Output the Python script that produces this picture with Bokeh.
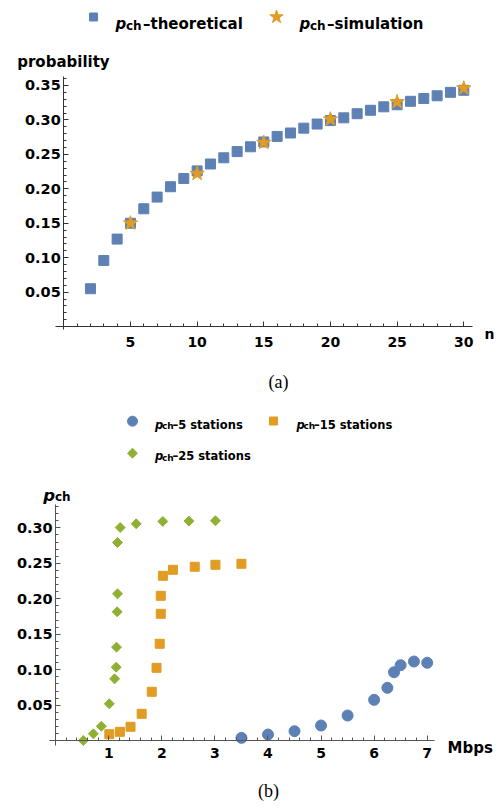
from bokeh.plotting import figure
from bokeh.layouts import column
from bokeh.models import Label, FixedTicker, Range1d, PrintfTickFormatter
from bokeh.embed import file_html
from bokeh.resources import INLINE
import math

# ---------------- data: chart (a) ----------------
n_theory = list(range(2, 31))
p_theory = [0.055, 0.096, 0.127, 0.150, 0.171, 0.188, 0.203, 0.215, 0.226, 0.236,
            0.245, 0.254, 0.261, 0.268, 0.276, 0.281, 0.288, 0.294, 0.299, 0.303,
            0.309, 0.314, 0.319, 0.322, 0.327, 0.331, 0.335, 0.340, 0.343]
n_sim = [5, 10, 15, 20, 25, 30]
p_sim = [0.150, 0.222, 0.267, 0.301, 0.326, 0.346]
xticks_a = [5, 10, 15, 20, 25, 30]
yticks_a = [0.05, 0.10, 0.15, 0.20, 0.25, 0.30, 0.35]

# ---------------- data: chart (b) ----------------
rate_5 = [3.5, 4.0, 4.5, 5.0, 5.5, 6.0, 6.25, 6.375, 6.5, 6.75, 7.0]
p_5 = [0.004, 0.0087, 0.0134, 0.0214, 0.0355, 0.0576, 0.0745, 0.0965, 0.1064, 0.1116, 0.1098]
rate_15 = [1.01, 1.21, 1.41, 1.62, 1.81, 1.9, 1.96, 1.98, 1.98, 2.02, 2.21, 2.62, 3.01, 3.5]
p_15 = [0.0092, 0.0125, 0.0196, 0.0379, 0.0689, 0.1027, 0.1366, 0.1788, 0.2042, 0.2324,
        0.2408, 0.2451, 0.2479, 0.2493]
rate_25 = [0.52, 0.71, 0.86, 1.01, 1.11, 1.14, 1.146, 1.158, 1.165, 1.165, 1.215, 1.517,
           2.018, 2.51, 3.01]
p_25 = [0.0003, 0.0097, 0.0204, 0.052, 0.0872, 0.1036, 0.1318, 0.1817, 0.207, 0.2793,
        0.3004, 0.3057, 0.309, 0.3095, 0.310]
xticks_b = [1, 2, 3, 4, 5, 6, 7]
yticks_b = [0.05, 0.10, 0.15, 0.20, 0.25, 0.30]

BLUE = "#5E81B5"
ORANGE = "#E19C24"
GREEN = "#8FB032"
FONT = "DejaVu Sans"

W = 500
H1, H2 = 400, 406
OFF = 0  # bokeh's page template has no body margin


# page-pixel -> data mappings (layout helpers)
def X1(px):
    return (px - 63.3) / 13.333


def Y1(py):
    return (326.1 - py) / 689.0


def X2(px):
    return (px - 55.2) / 53.07


def Y2(py):
    return (740.2 - py) / 709.6


def lab(p, X, Y, px, py, text, size, style="bold", font=FONT, align="left",
        baseline="alphabetic"):
    p.add_layout(Label(x=X(px), y=Y(py), text=text, text_font=font,
                       text_font_size=f"{size}px", text_font_style=style,
                       text_align=align, text_baseline=baseline, text_color="black"))


def style_axes(p, xb, yb, xt, xminor, yt, yminor, col):
    xa = p.xaxis[0]
    ya = p.yaxis[0]
    xa.fixed_location = 0
    ya.fixed_location = 0
    xa.bounds = xb
    ya.bounds = yb
    xa.ticker = FixedTicker(ticks=xt, minor_ticks=xminor)
    ya.ticker = FixedTicker(ticks=yt, minor_ticks=yminor)
    ya.formatter = PrintfTickFormatter(format="%.2f")
    for a in (xa, ya):
        a.axis_line_color = col
        a.major_tick_line_color = col
        a.minor_tick_line_color = col
        a.major_tick_in = 5
        a.major_tick_out = 0
        a.minor_tick_in = 3
        a.minor_tick_out = 0
        a.major_label_text_font = FONT
        a.major_label_text_font_style = "bold"
        a.major_label_text_color = "black"
    xa.major_label_text_font_size = "14px"
    ya.major_label_text_font_size = "14.5px"
    ya.major_label_standoff = 3


# ---------------- figure (a) ----------------
p1 = figure(width=W, height=H1, output_backend="svg", toolbar_location=None,
            x_range=Range1d(X1(OFF), X1(OFF + W)), y_range=Range1d(Y1(OFF + H1), Y1(OFF)),
            min_border=0, outline_line_color=None)
p1.xgrid.visible = False
p1.ygrid.visible = False
style_axes(p1, (-0.62, 30.63), (-0.004, 0.363), xticks_a, list(range(1, 31)),
           yticks_a, [i / 100 for i in range(1, 37)], "#333333")
p1.xaxis[0].major_label_standoff = 10

p1.scatter(n_theory, p_theory, marker="square", size=10, color=BLUE)
p1.scatter(n_sim, p_sim, marker="star", size=15, color=ORANGE)

# legend (a)
p1.scatter([X1(93)], [Y1(16.5)], marker="square", size=8, color=BLUE)
p1.scatter([X1(276)], [Y1(16.5)], marker="star", size=14, color=ORANGE)
lab(p1, X1, Y1, 115, 23.3, "p", 15, "bold italic")
lab(p1, X1, Y1, 125.5, 25, "ch", 12)
lab(p1, X1, Y1, 142.5, 23.3, "–theoretical", 15)
lab(p1, X1, Y1, 299, 23.3, "p", 15, "bold italic")
lab(p1, X1, Y1, 309.5, 25, "ch", 12)
lab(p1, X1, Y1, 326.5, 23.3, "–simulation", 15)

lab(p1, X1, Y1, 16.7, 61.4, "probability", 15)
lab(p1, X1, Y1, 484, 333.3, "n", 14)
lab(p1, X1, Y1, 278, 381.7, "(a)", 18, "normal", "Liberation Serif", "center", "middle")

# ---------------- figure (b) ----------------
p2 = figure(width=W, height=H2, output_backend="svg", toolbar_location=None,
            x_range=Range1d(X2(OFF), X2(OFF + W)),
            y_range=Range1d(Y2(OFF + H1 + H2), Y2(OFF + H1)),
            min_border=0, outline_line_color=None)
p2.xgrid.visible = False
p2.ygrid.visible = False
style_axes(p2, (-0.12, 7.13), (-0.007, 0.333), xticks_b,
           [round(i * 0.2, 2) for i in range(1, 36)],
           yticks_b, [i / 100 for i in range(1, 34)], "#555555")
p2.xaxis[0].major_label_standoff = 7

p2.scatter(rate_5, p_5, marker="circle", size=11, color=BLUE)
p2.scatter(rate_15, p_15, marker="square", size=9, color=ORANGE)
p2.scatter(rate_25, p_25, marker="square", size=7, angle=math.pi / 4, color=GREEN)

# legend (b)
p2.scatter([X2(132)], [Y2(420.7)], marker="circle", size=10, color=BLUE)
p2.scatter([X2(273)], [Y2(420.5)], marker="square", size=8, color=ORANGE)
p2.scatter([X2(132)], [Y2(452.7)], marker="square", size=7, angle=math.pi / 4, color=GREEN)
for (px, py, t) in [(154.5, 424, "–5 stations"), (296, 424, "–15 stations"),
                    (154.5, 455.5, "–25 stations")]:
    lab(p2, X2, Y2, px, py, "p", 11.5, "bold italic")
    lab(p2, X2, Y2, px + 7, py + 1.5, "ch", 9)
    lab(p2, X2, Y2, px + 17.5, py, t, 11.5)

lab(p2, X2, Y2, 42.7, 495, "p", 16.5, "bold italic")
lab(p2, X2, Y2, 54.5, 496.7, "ch", 12)
lab(p2, X2, Y2, 447, 747, "Mbps", 15)
lab(p2, X2, Y2, 268, 790, "(b)", 18, "normal", "Liberation Serif", "center", "middle")

layout = column(p1, p2, spacing=0)
open("out.html", "w").write(file_html(layout, INLINE))
